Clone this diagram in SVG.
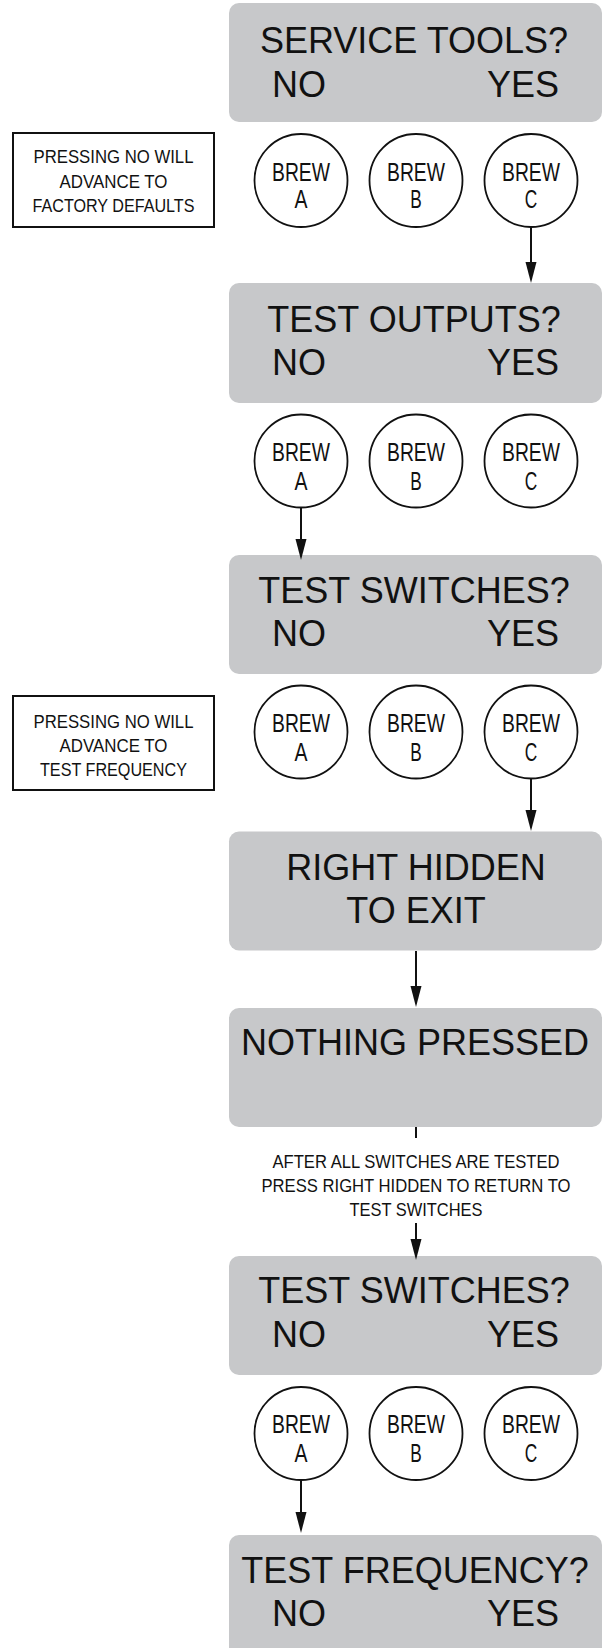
<svg xmlns="http://www.w3.org/2000/svg" width="605" height="1648" viewBox="0 0 605 1648">
<style>
.box{fill:#c7c8ca;stroke:none}
.t{font-family:"Liberation Sans",Arial,Helvetica,sans-serif;font-size:36px;fill:#111}
.c{text-anchor:middle}
.e{text-anchor:end}
.btn{fill:#fff;stroke:#111;stroke-width:1.8}
.n{font-family:"Liberation Sans Narrow","Liberation Sans",Arial,sans-serif;fill:#111;text-anchor:middle}
.bw{font-size:25px}
.sm{font-size:18px}
.lb{font-size:18.5px}
.note{fill:#fff;stroke:#111;stroke-width:2}
.ln{stroke:#111;stroke-width:2;fill:none}
.ah{fill:#111}
</style>
<rect width="605" height="1648" fill="#fff"/>

<g id="box-service-tools">
<rect class="box" x="229" y="3" width="373" height="119" rx="10"/>
<text class="t c" x="414" y="53">SERVICE TOOLS?</text>
<text class="t" x="272" y="97">NO</text>
<text class="t e" x="559" y="97">YES</text>
</g>
<g id="note-factory">
<rect class="note" x="13" y="133" width="201" height="94"/>
<text class="n sm" x="113.5" y="163.3" textLength="160" lengthAdjust="spacingAndGlyphs">PRESSING NO WILL</text>
<text class="n sm" x="113.5" y="187.7" textLength="108" lengthAdjust="spacingAndGlyphs">ADVANCE TO</text>
<text class="n sm" x="113.5" y="211.7" textLength="162" lengthAdjust="spacingAndGlyphs">FACTORY DEFAULTS</text>
</g>
<g id="row1-brew-a"><circle class="btn" cx="301" cy="180.5" r="46.5"/><text class="n bw" x="301" y="181" textLength="58" lengthAdjust="spacingAndGlyphs">BREW</text><text class="n bw" x="301" y="208" textLength="13" lengthAdjust="spacingAndGlyphs">A</text></g>
<g id="row1-brew-b"><circle class="btn" cx="416" cy="180.5" r="46.5"/><text class="n bw" x="416" y="181" textLength="58" lengthAdjust="spacingAndGlyphs">BREW</text><text class="n bw" x="416" y="208" textLength="11.5" lengthAdjust="spacingAndGlyphs">B</text></g>
<g id="row1-brew-c"><circle class="btn" cx="531" cy="180.5" r="46.5"/><text class="n bw" x="531" y="181" textLength="58" lengthAdjust="spacingAndGlyphs">BREW</text><text class="n bw" x="531" y="208" textLength="12.5" lengthAdjust="spacingAndGlyphs">C</text></g>

<g id="box-test-outputs">
<rect class="box" x="229" y="283" width="373" height="120" rx="10"/>
<text class="t c" x="414" y="332">TEST OUTPUTS?</text>
<text class="t" x="272" y="374.5">NO</text>
<text class="t e" x="559" y="374.5">YES</text>
</g>
<g id="row2-brew-a"><circle class="btn" cx="301" cy="461" r="46.5"/><text class="n bw" x="301" y="461" textLength="58" lengthAdjust="spacingAndGlyphs">BREW</text><text class="n bw" x="301" y="490" textLength="13" lengthAdjust="spacingAndGlyphs">A</text></g>
<g id="row2-brew-b"><circle class="btn" cx="416" cy="461" r="46.5"/><text class="n bw" x="416" y="461" textLength="58" lengthAdjust="spacingAndGlyphs">BREW</text><text class="n bw" x="416" y="490" textLength="11.5" lengthAdjust="spacingAndGlyphs">B</text></g>
<g id="row2-brew-c"><circle class="btn" cx="531" cy="461" r="46.5"/><text class="n bw" x="531" y="461" textLength="58" lengthAdjust="spacingAndGlyphs">BREW</text><text class="n bw" x="531" y="490" textLength="12.5" lengthAdjust="spacingAndGlyphs">C</text></g>

<g id="box-test-switches-1">
<rect class="box" x="229" y="555" width="373" height="119" rx="10"/>
<text class="t c" x="414" y="603">TEST SWITCHES?</text>
<text class="t" x="272" y="646">NO</text>
<text class="t e" x="559" y="646">YES</text>
</g>
<g id="note-frequency">
<rect class="note" x="13" y="696" width="201" height="94"/>
<text class="n sm" x="113.5" y="728.3" textLength="160" lengthAdjust="spacingAndGlyphs">PRESSING NO WILL</text>
<text class="n sm" x="113.5" y="752.3" textLength="108" lengthAdjust="spacingAndGlyphs">ADVANCE TO</text>
<text class="n sm" x="113.5" y="776" textLength="147" lengthAdjust="spacingAndGlyphs">TEST FREQUENCY</text>
</g>
<g id="row3-brew-a"><circle class="btn" cx="301" cy="732" r="46.5"/><text class="n bw" x="301" y="732" textLength="58" lengthAdjust="spacingAndGlyphs">BREW</text><text class="n bw" x="301" y="761" textLength="13" lengthAdjust="spacingAndGlyphs">A</text></g>
<g id="row3-brew-b"><circle class="btn" cx="416" cy="732" r="46.5"/><text class="n bw" x="416" y="732" textLength="58" lengthAdjust="spacingAndGlyphs">BREW</text><text class="n bw" x="416" y="761" textLength="11.5" lengthAdjust="spacingAndGlyphs">B</text></g>
<g id="row3-brew-c"><circle class="btn" cx="531" cy="732" r="46.5"/><text class="n bw" x="531" y="732" textLength="58" lengthAdjust="spacingAndGlyphs">BREW</text><text class="n bw" x="531" y="761" textLength="12.5" lengthAdjust="spacingAndGlyphs">C</text></g>

<g id="box-right-hidden">
<rect class="box" x="229" y="831.5" width="373" height="119" rx="10"/>
<text class="t c" x="416" y="880">RIGHT HIDDEN</text>
<text class="t c" x="416" y="922.7">TO EXIT</text>
</g>

<g id="box-nothing-pressed">
<rect class="box" x="229" y="1008" width="373" height="119" rx="10"/>
<text class="t c" x="415" y="1055">NOTHING PRESSED</text>
</g>

<g id="box-test-switches-2">
<rect class="box" x="229" y="1256" width="373" height="119" rx="10"/>
<text class="t c" x="414" y="1303.3">TEST SWITCHES?</text>
<text class="t" x="272" y="1346.7">NO</text>
<text class="t e" x="559" y="1346.7">YES</text>
</g>
<g id="row4-brew-a"><circle class="btn" cx="301" cy="1433.5" r="46.5"/><text class="n bw" x="301" y="1433" textLength="58" lengthAdjust="spacingAndGlyphs">BREW</text><text class="n bw" x="301" y="1461.7" textLength="13" lengthAdjust="spacingAndGlyphs">A</text></g>
<g id="row4-brew-b"><circle class="btn" cx="416" cy="1433.5" r="46.5"/><text class="n bw" x="416" y="1433" textLength="58" lengthAdjust="spacingAndGlyphs">BREW</text><text class="n bw" x="416" y="1461.7" textLength="11.5" lengthAdjust="spacingAndGlyphs">B</text></g>
<g id="row4-brew-c"><circle class="btn" cx="531" cy="1433.5" r="46.5"/><text class="n bw" x="531" y="1433" textLength="58" lengthAdjust="spacingAndGlyphs">BREW</text><text class="n bw" x="531" y="1461.7" textLength="12.5" lengthAdjust="spacingAndGlyphs">C</text></g>

<g id="box-test-frequency">
<rect class="box" x="229" y="1535" width="373" height="125" rx="10"/>
<text class="t c" x="415" y="1583">TEST FREQUENCY?</text>
<text class="t" x="272" y="1625.5">NO</text>
<text class="t e" x="559" y="1625.5">YES</text>
</g>

<g id="connectors">
<line class="ln" x1="531" y1="227" x2="531" y2="263"/>
<polygon class="ah" points="525.5,262 536.5,262 531,283"/>
<line class="ln" x1="301" y1="507.5" x2="301" y2="540"/>
<polygon class="ah" points="295.5,539 306.5,539 301,560"/>
<line class="ln" x1="531" y1="778.5" x2="531" y2="811"/>
<polygon class="ah" points="525.5,810 536.5,810 531,831"/>
<line class="ln" x1="416" y1="951" x2="416" y2="987"/>
<polygon class="ah" points="410.5,986 421.5,986 416,1007"/>
<line class="ln" x1="416" y1="1127" x2="416" y2="1138"/>
<text class="n lb" x="416" y="1168.3" textLength="287" lengthAdjust="spacingAndGlyphs">AFTER ALL SWITCHES ARE TESTED</text>
<text class="n lb" x="416" y="1191.7" textLength="309" lengthAdjust="spacingAndGlyphs">PRESS RIGHT HIDDEN TO RETURN TO</text>
<text class="n lb" x="416" y="1215.7" textLength="133" lengthAdjust="spacingAndGlyphs">TEST SWITCHES</text>
<line class="ln" x1="416" y1="1223" x2="416" y2="1240"/>
<polygon class="ah" points="410.5,1239 421.5,1239 416,1260"/>
<line class="ln" x1="301" y1="1480" x2="301" y2="1513"/>
<polygon class="ah" points="295.5,1512 306.5,1512 301,1533"/>
</g>
</svg>
